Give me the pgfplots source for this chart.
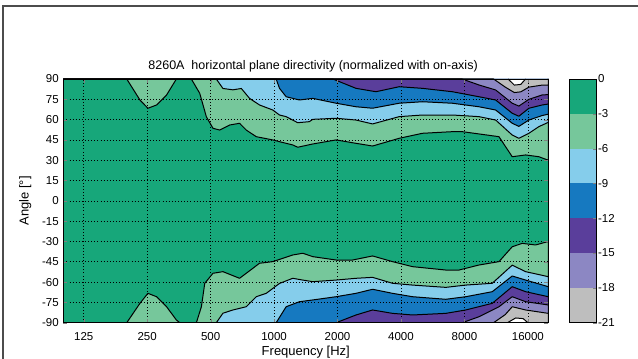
\documentclass[border=0pt]{standalone}
\usepackage{fontspec}
\setmainfont{Liberation Sans}
\usepackage{pgfplots}
\pgfplotsset{compat=1.18}
\definecolor{c0}{RGB}{23,167,122}
\definecolor{c3}{RGB}{118,199,155}
\definecolor{c6}{RGB}{133,205,235}
\definecolor{c9}{RGB}{22,121,192}
\definecolor{c12}{RGB}{90,62,155}
\definecolor{c15}{RGB}{140,135,195}
\definecolor{c18}{RGB}{190,190,190}
\definecolor{c21}{RGB}{255,255,255}
\pgfplotsset{cline/.style={draw=black, line width=1pt, line join=round}}
\begin{document}
\begin{tikzpicture}[x=1pt,y=1pt]
\useasboundingbox (0,0) rectangle (638,-359);
\draw[line width=1.2pt, black!70] (3,-359) -- (3,-6) -- (638,-6);
\begin{axis}[at={(63.3pt,-322.7pt)}, anchor=south west,
  scale only axis, width=485pt, height=243.7pt,
  xmode=log, log basis x=2, xmin=100, xmax=20000, ymin=-90, ymax=90,
  xtick={125,250,500,1000,2000,4000,8000,16000},
  xticklabels={125,250,500,1000,2000,4000,8000,16000},
  ytick={-90,-75,-60,-45,-30,-15,0,15,30,45,60,75,90},
  yticklabels={-90,-75,-60,-45,-30,-15,0,15,30,45,60,75,90},
  grid=major, grid style={black, line width=0.6pt, dash pattern=on 0.7pt off 2.4pt},
  axis on top, axis background/.style={fill=c0},
  axis line style={line width=0.8pt},
  tick align=inside, major tick length=4pt, minor tick length=0pt,
  tick label style={font=\fontsize{11.5}{12}\selectfont},
  xticklabel style={yshift=-6pt},
  yticklabel style={xshift=-1pt},
  xlabel={Frequency [Hz]}, ylabel={Angle [°]},
  xlabel style={font=\fontsize{13}{14}\selectfont, at={(axis description cs:0.5,-0.12)}, anchor=center},
  ylabel style={font=\fontsize{13}{14}\selectfont, at={(axis description cs:-0.0785,0.5)}, anchor=center},
  title={8260A\ \ horizontal plane directivity (normalized with on-axis)},
  title style={font=\fontsize{12.5}{13}\selectfont, at={(axis description cs:0.515,1.062)}, anchor=center, yshift=-8pt},
]
% ---- top (positive angles) ----
\addplot[cline, fill=c3] table {
100 90
200 90
231 74.5
252 68.4
277 70.8
309 78.2
344 90
405 90
444 79.4
477 62.2
513 53.6
552 52.3
615 56
686 57.3
738 52.3
823 47.4
986 45
1061 43.7
1226 41.3
1295 39.6
1525 42
1969 45
2447 42.5
2933 40.5
3923 46.2
5056 49.9
7014 51.1
7820 51.1
11666 47.4
13486 32.6
15610 33.9
18038 32.6
20000 30
20000 90
};
\addplot[cline, fill=c6] table {
100 90
532 90
572 83
638 82
699 83
765 75.7
853 70.8
986 67.1
1061 63.4
1141 62.2
1295 57.7
1471 58.5
1525 60.2
1969 61
2447 59.7
2933 56.8
3923 62.2
5056 63.4
7014 63.4
9370 62.2
11250 59.7
13486 48.6
14500 46.2
16180 49.9
18038 54.8
20000 58
20000 90
};
\addplot[cline, fill=c9] table {
100 90
1023 90
1061 83.1
1141 76.9
1319 74.5
1525 75.7
1969 72.1
2447 69.5
2933 68.4
3923 72.1
5056 73.2
7014 72.1
9370 69.5
11250 67.1
13486 57.3
14500 55
16180 59.7
18700 63
20000 64
20000 90
};
\addplot[cline, fill=c12] table {
100 90
1900 90
2447 83.1
3043 80.6
3923 84.3
5056 83.1
7014 80.6
9370 76.9
11250 74.5
13486 64.7
14500 62.5
16180 68.4
18700 70.8
20000 71.5
20000 90
};
\addplot[cline, fill=c15] table {
100 90
7800 90
9370 85.6
11250 81.9
13486 72.1
14500 70
16180 75
18700 78.2
20000 78.5
20000 90
};
\addplot[cline, fill=c18] table {
100 90
11000 90
12500 84
13800 80
14800 80.5
16180 84
18700 85.5
20000 85.5
20000 90
};
\addplot[cline, fill=c21] table {
12900 90
13800 85.5
14800 86
15600 90
};
% ---- bottom (negative angles) ----
\addplot[cline, fill=c3] table {
100 -90
200 -90
231 -75.7
252 -68.3
277 -70.8
309 -78.2
344 -88
357 -90
428 -90
452 -78.2
469 -60.9
513 -53.5
572 -52.3
686 -57.2
738 -53.5
853 -46.1
986 -44.9
1226 -40
1368 -38.7
1525 -41.2
1969 -43.7
2358 -43.7
2933 -40.7
3647 -44.9
4535 -48.6
6527 -51.1
7544 -51.1
9370 -47.4
11666 -44.9
13486 -33.9
15040 -31.4
17400 -32.6
20000 -30
20000 -90
};
\addplot[cline, fill=c6] table {
100 -90
532 -90
572 -83
638 -80.6
738 -78.2
823 -70.8
918 -68.3
1061 -61
1226 -57.2
1368 -58.5
1525 -59.7
1969 -58.5
2447 -57.2
2933 -56.5
3647 -60.9
4535 -62.2
6527 -63.9
8118 -62.2
10840 -60.9
13486 -47.5
15610 -52.3
20000 -56
20000 -90
};
\addplot[cline, fill=c9] table {
100 -90
1023 -90
1141 -78.2
1319 -74.5
1525 -73.2
1969 -70.8
2447 -68.3
2933 -65.3
3647 -68.3
4535 -70.8
6527 -72.7
8118 -70.8
10840 -67.1
13486 -55.5
15610 -58.5
20000 -63.4
20000 -90
};
\addplot[cline, fill=c12] table {
100 -90
1969 -90
2447 -84.3
2933 -80.6
3647 -83.1
4535 -84.3
6527 -83.1
8118 -80.6
10840 -75.7
13486 -63.4
15610 -67.1
20000 -70.8
20000 -90
};
\addplot[cline, fill=c15] table {
100 -90
7820 -90
9370 -85.6
11666 -78.2
13486 -70.8
15610 -74.5
20000 -76.9
20000 -90
};
\addplot[cline, fill=c18] table {
100 -90
11000 -90
12500 -84
13486 -78.2
15610 -80.6
20000 -83.1
20000 -90
};
\addplot[cline, fill=c21] table {
12800 -90
14000 -86.5
15200 -87
16000 -90
};
\end{axis}
% colour bar
\begin{axis}[at={(569pt,-322.7pt)}, anchor=south west,
  scale only axis, width=27.5pt, height=243.7pt,
  xmin=0, xmax=1, ymin=-21, ymax=0,
  xtick=\empty, ytick={-21,-18,-15,-12,-9,-6,-3,0},
  yticklabels={-21,-18,-15,-12,-9,-6,-3,0},
  ytick pos=right, yticklabel pos=right,
  tick align=inside, major tick length=4pt,
  axis on top, axis line style={line width=0.8pt},
  tick label style={font=\fontsize{11.5}{12}\selectfont},
  yticklabel style={xshift=-2pt},
]
\addplot[fill=c0, draw=none] coordinates {(0,-3) (1,-3) (1,0) (0,0)};
\addplot[fill=c3, draw=none] coordinates {(0,-6) (1,-6) (1,-3) (0,-3)};
\addplot[fill=c6, draw=none] coordinates {(0,-9) (1,-9) (1,-6) (0,-6)};
\addplot[fill=c9, draw=none] coordinates {(0,-12) (1,-12) (1,-9) (0,-9)};
\addplot[fill=c12, draw=none] coordinates {(0,-15) (1,-15) (1,-12) (0,-12)};
\addplot[fill=c15, draw=none] coordinates {(0,-18) (1,-18) (1,-15) (0,-15)};
\addplot[fill=c18, draw=none] coordinates {(0,-21) (1,-21) (1,-18) (0,-18)};
\end{axis}
\end{tikzpicture}
\end{document}
